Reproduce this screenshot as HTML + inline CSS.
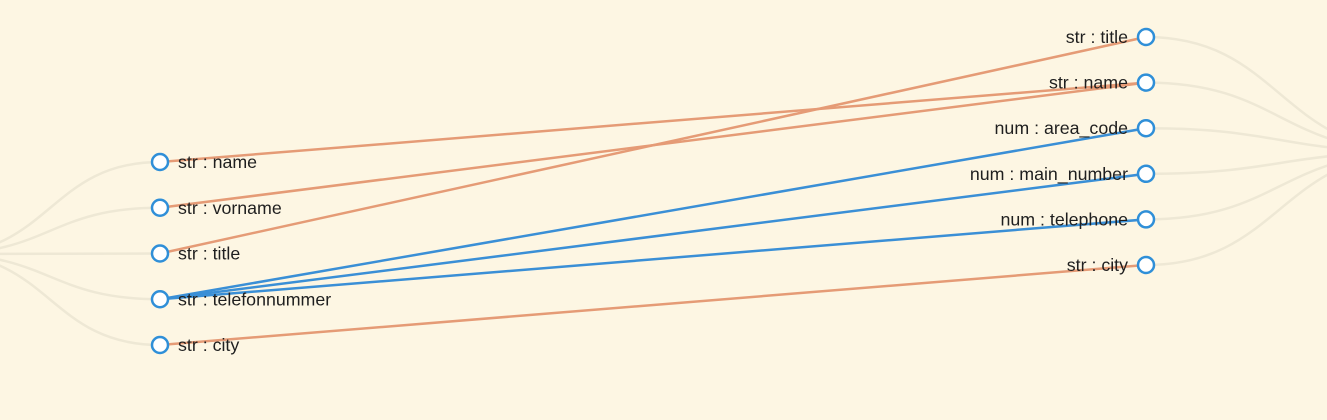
<!DOCTYPE html>
<html><head><meta charset="utf-8"><style>
html,body{margin:0;padding:0;background:#fdf6e3;}
svg{display:block;font-family:"Liberation Sans",sans-serif;}
</style></head><body>
<svg id="chart" width="1327" height="420" viewBox="0 0 1327 420">
<rect width="1327" height="420" fill="#fdf6e3"/>
<g id="bg"></g><g id="links"></g><g id="nodes"></g>
</svg>
<script>
const leftFields = ["str : name","str : vorname","str : title","str : telefonnummer","str : city"];
const rightFields = ["str : title","str : name","num : area_code","num : main_number","num : telephone","str : city"];
const linkSource = [0,1,2,3,3,3,4];
const linkTarget = [1,1,0,2,3,4,5];
const linkType = ["str","str","str","num","num","num","str"];

const NS="http://www.w3.org/2000/svg";
const lx=160, rx=1146;
const ly=i=>162+i*45.75;
const ry=i=>37+i*45.6;
function mk(t,a,p){const e=document.createElementNS(NS,t);for(const k in a)e.setAttribute(k,a[k]);p.appendChild(e);return e;}
const bg=document.getElementById('bg'),lk=document.getElementById('links'),nd=document.getElementById('nodes');
leftFields.forEach((f,i)=>{const y=ly(i);
 const p=mk('path',{d:`M${lx},${y} C50,${y} 50,254 -60,254`,fill:'none',stroke:'#eee8d5','stroke-width':2.5},bg);
 
 
});
rightFields.forEach((f,i)=>{const y=ry(i);
 const p=mk('path',{d:`M${rx},${y} C1280,${y} 1280,152 1420,152`,fill:'none',stroke:'#eee8d5','stroke-width':2.5},bg);
 
 
});
linkSource.forEach((s,k)=>{
 const l=mk('line',{x1:lx,y1:ly(s),x2:rx,y2:ry(linkTarget[k]),stroke:linkType[k]==='num'?'#3a8fd6':'#e59b76','stroke-width':2.5},lk);
 
 
});
leftFields.forEach((f,i)=>{const y=ly(i);
 const c=mk('circle',{cx:lx,cy:y,r:8,fill:'#fff',stroke:'#2f8fd8','stroke-width':2.5},nd);
 
 
 const t=mk('text',{x:178,y:y+6,'font-size':17.8,fill:'#1f1f1f'},nd);t.textContent=f;
 
 
});
rightFields.forEach((f,i)=>{const y=ry(i);
 const c=mk('circle',{cx:rx,cy:y,r:8,fill:'#fff',stroke:'#2f8fd8','stroke-width':2.5},nd);
 
 
 const t=mk('text',{x:1128,y:y+6,'font-size':17.8,fill:'#1f1f1f','text-anchor':'end'},nd);t.textContent=f;
 
 
});
</script>
</body></html>
